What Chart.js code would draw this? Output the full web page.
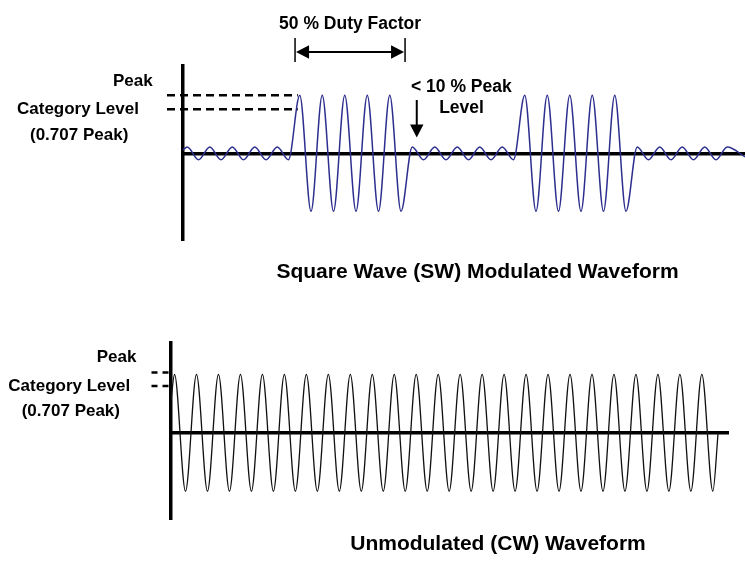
<!DOCTYPE html>
<html>
<head>
<meta charset="utf-8">
<script src="https://cdn.jsdelivr.net/npm/chart.js@4.4.1/dist/chart.umd.min.js"></script>
<style>
html,body{margin:0;padding:0;background:#fff;}
#wrap{position:relative;width:745px;height:561px;overflow:hidden;background:#fff;}
#wrap canvas{position:absolute;left:0;}
</style>
</head>
<body>
<div id="wrap">
<canvas id="sw" width="745" height="300" style="top:0px"></canvas>
<canvas id="cw" width="745" height="261" style="top:300px"></canvas>
</div>
<script>
// ===== DATA (time in carrier cycles after the vertical axis, level as a fraction of peak) =====
// Square-wave modulated waveform: one value per half-cycle extreme (peak, trough, ...)
const swLevels = [
  0.11,-0.11, 0.11,-0.11, 0.11,-0.11, 0.11,-0.11, 0.11,-0.11,   // residual (< 10 %) level
  1.00,-1.00, 1.00,-1.00, 1.00,-1.00, 1.00,-1.00, 1.00,-1.00,   // burst (ON)
  0.11,-0.11, 0.11,-0.11, 0.11,-0.11, 0.11,-0.11, 0.11,-0.11,   // residual
  1.00,-1.00, 1.00,-1.00, 1.00,-1.00, 1.00,-1.00, 1.00,-1.00,   // burst (ON)
  0.11,-0.11, 0.11,-0.11, 0.11,-0.11, 0.11,-0.11, 0.11          // residual
];
const swStartLevel = 0.06;
const swEndLevel = -0.06;
const swFirstPeak = 0.19;     // cycles
const swEndTime = 24.98;      // cycles
const swLevelRange = [-1.495, 1.505];
const swMarkerLevels = [1.00, 0.76];   // Peak, Category Level
const swDutySpan = [4.98, 9.87];        // 50 % duty factor bracket (cycles)
const swRippleArrowAt = 10.39;          // "< 10 % Peak Level" arrow (cycles)

// Unmodulated (CW) waveform
const cwLevels = [
  1,-1, 1,-1, 1,-1, 1,-1, 1,-1, 1,-1, 1,-1, 1,-1, 1,-1, 1,-1,
  1,-1, 1,-1, 1,-1, 1,-1, 1,-1, 1,-1, 1,-1, 1,-1, 1,-1, 1,-1,
  1,-1, 1,-1, 1,-1, 1,-1, 1,-1
];
const cwStartLevel = 0.55;
const cwEndLevel = 0;
const cwFirstPeak = 0.16;
const cwEndTime = 24.9;
const cwAxisEnd = 25.35;
const cwLevelRange = [-1.475, 1.535];
const cwMarkerLevels = [1.03, 0.80];

const levelLabels = ['Peak', 'Category Level', '(0.707 Peak)'];
const swTitle = 'Square Wave (SW) Modulated Waveform';
const cwTitle = 'Unmodulated (CW) Waveform';
const dutyLabel = '50 % Duty Factor';
const rippleLabel = ['< 10 % Peak', 'Level'];

// ===== build point tables =====
function buildPoints(start, levels, firstPeak, endTime, endLevel) {
  const pts = [{x: 0, y: start}];
  levels.forEach((v, i) => pts.push({x: firstPeak + 0.5 * i, y: v}));
  pts.push({x: endTime, y: endLevel});
  return pts;
}
const swPoints = buildPoints(swStartLevel, swLevels, swFirstPeak, swEndTime, swEndLevel);
const cwPoints = buildPoints(cwStartLevel, cwLevels, cwFirstPeak, cwEndTime, cwEndLevel);

// ===== drawing helpers =====
const FONT = '"Liberation Sans", Arial, Helvetica, sans-serif';
const bold = s => `bold ${s}px ${FONT}`;
function hLine(ctx, x1, x2, y, w, dash) {
  ctx.save(); ctx.beginPath(); ctx.setLineDash(dash || []); ctx.lineWidth = w; ctx.strokeStyle = '#000';
  ctx.moveTo(x1, y); ctx.lineTo(x2, y); ctx.stroke(); ctx.restore();
}
function vLine(ctx, x, y1, y2, w) {
  ctx.save(); ctx.beginPath(); ctx.lineWidth = w; ctx.strokeStyle = '#000';
  ctx.moveTo(x, y1); ctx.lineTo(x, y2); ctx.stroke(); ctx.restore();
}
function head(ctx, tx, ty, dx, dy, len, half) {
  const bx = tx - dx * len, by = ty - dy * len;
  ctx.save(); ctx.beginPath(); ctx.fillStyle = '#000';
  ctx.moveTo(tx, ty);
  ctx.lineTo(bx - dy * half, by + dx * half);
  ctx.lineTo(bx + dy * half, by - dx * half);
  ctx.closePath(); ctx.fill(); ctx.restore();
}
function text(ctx, s, x, y, size, align) {
  ctx.save(); ctx.font = bold(size); ctx.fillStyle = '#000';
  ctx.textAlign = align || 'left'; ctx.textBaseline = 'alphabetic';
  ctx.fillText(s, x, y); ctx.restore();
}

// ===== common options =====
function baseOptions(xMax, yRange, padding) {
  return {
    responsive: false,
    maintainAspectRatio: false,
    animation: false,
    events: [],
    layout: { padding },
    plugins: { legend: { display: false }, tooltip: { enabled: false }, title: { display: false } },
    scales: {
      x: {
        type: 'linear', min: 0, max: xMax, position: { y: 0 },
        grid: { display: false, drawTicks: false },
        ticks: { display: false },
        border: { display: true, width: 3.5, color: '#000' }
      },
      y: {
        type: 'linear', min: yRange[0], max: yRange[1], position: { x: 0 },
        grid: { display: false, drawTicks: false },
        ticks: { display: false },
        border: { display: true, width: 3.5, color: '#000' }
      }
    }
  };
}

// ===== Top chart: SW modulated =====
const swPlugin = {
  id: 'swAnnot',
  beforeDatasetsDraw(chart) {
    const {ctx, scales: {x, y}} = chart;
    const ax = x.getPixelForValue(0);
    const xEnd = x.getPixelForValue(swFirstPeak + 0.5 * 10) - 2;
    swMarkerLevels.forEach(v => hLine(ctx, ax - 16, xEnd, y.getPixelForValue(v), 2.5, [8, 5]));
  },
  afterDraw(chart) {
    const {ctx, scales: {x}} = chart;
    text(ctx, levelLabels[0], 113, 85.7, 17);
    text(ctx, levelLabels[1], 17, 114.3, 17);
    text(ctx, levelLabels[2], 30, 139.5, 17);
    const x1 = x.getPixelForValue(swDutySpan[0]);
    const x2 = x.getPixelForValue(swDutySpan[1]);
    vLine(ctx, x1, 38, 62, 1.5);
    vLine(ctx, x2, 38, 62, 1.5);
    hLine(ctx, x1 + 10, x2 - 10, 52, 2);
    head(ctx, x1 + 1, 52, -1, 0, 13, 6.7);
    head(ctx, x2 - 1, 52, 1, 0, 13, 6.7);
    text(ctx, dutyLabel, (x1 + x2) / 2, 29.3, 17.5, 'center');
    const xa = x.getPixelForValue(swRippleArrowAt);
    vLine(ctx, xa, 100, 127, 2);
    head(ctx, xa, 137.5, 0, 1, 13, 6.7);
    text(ctx, rippleLabel[0], 411, 91.7, 17.5);
    text(ctx, rippleLabel[1], 461.5, 113.3, 17.5, 'center');
    text(ctx, swTitle, 477.5, 278.3, 21, 'center');
  }
};

new Chart(document.getElementById('sw'), {
  type: 'line',
  data: {
    datasets: [{
      data: swPoints,
      borderColor: '#2d2f8e',
      borderWidth: 1.5,
      pointRadius: 0,
      fill: false,
      cubicInterpolationMode: 'monotone'
    }]
  },
  options: baseOptions(swEndTime, swLevelRange, { left: 183, right: 0, top: 66, bottom: 60 }),
  plugins: [swPlugin]
});

// ===== Bottom chart: CW =====
const cwPlugin = {
  id: 'cwAnnot',
  beforeDatasetsDraw(chart) {
    const {ctx, scales: {x, y}} = chart;
    const ax = x.getPixelForValue(0);
    cwMarkerLevels.forEach(v => hLine(ctx, ax - 19.5, ax, y.getPixelForValue(v), 2.5, [6, 5]));
  },
  afterDraw(chart) {
    const {ctx} = chart;
    text(ctx, levelLabels[0], 96.7, 61.7, 17);
    text(ctx, levelLabels[1], 8.3, 91, 17);
    text(ctx, levelLabels[2], 21.7, 116, 17);
    text(ctx, cwTitle, 498, 249.5, 21, 'center');
  }
};

new Chart(document.getElementById('cw'), {
  type: 'line',
  data: {
    datasets: [{
      data: cwPoints,
      borderColor: '#111111',
      borderWidth: 1.3,
      pointRadius: 0,
      fill: false,
      cubicInterpolationMode: 'monotone'
    }]
  },
  options: baseOptions(cwAxisEnd, cwLevelRange, { left: 171, right: 17, top: 43, bottom: 42 }),
  plugins: [cwPlugin]
});
</script>
</body>
</html>
